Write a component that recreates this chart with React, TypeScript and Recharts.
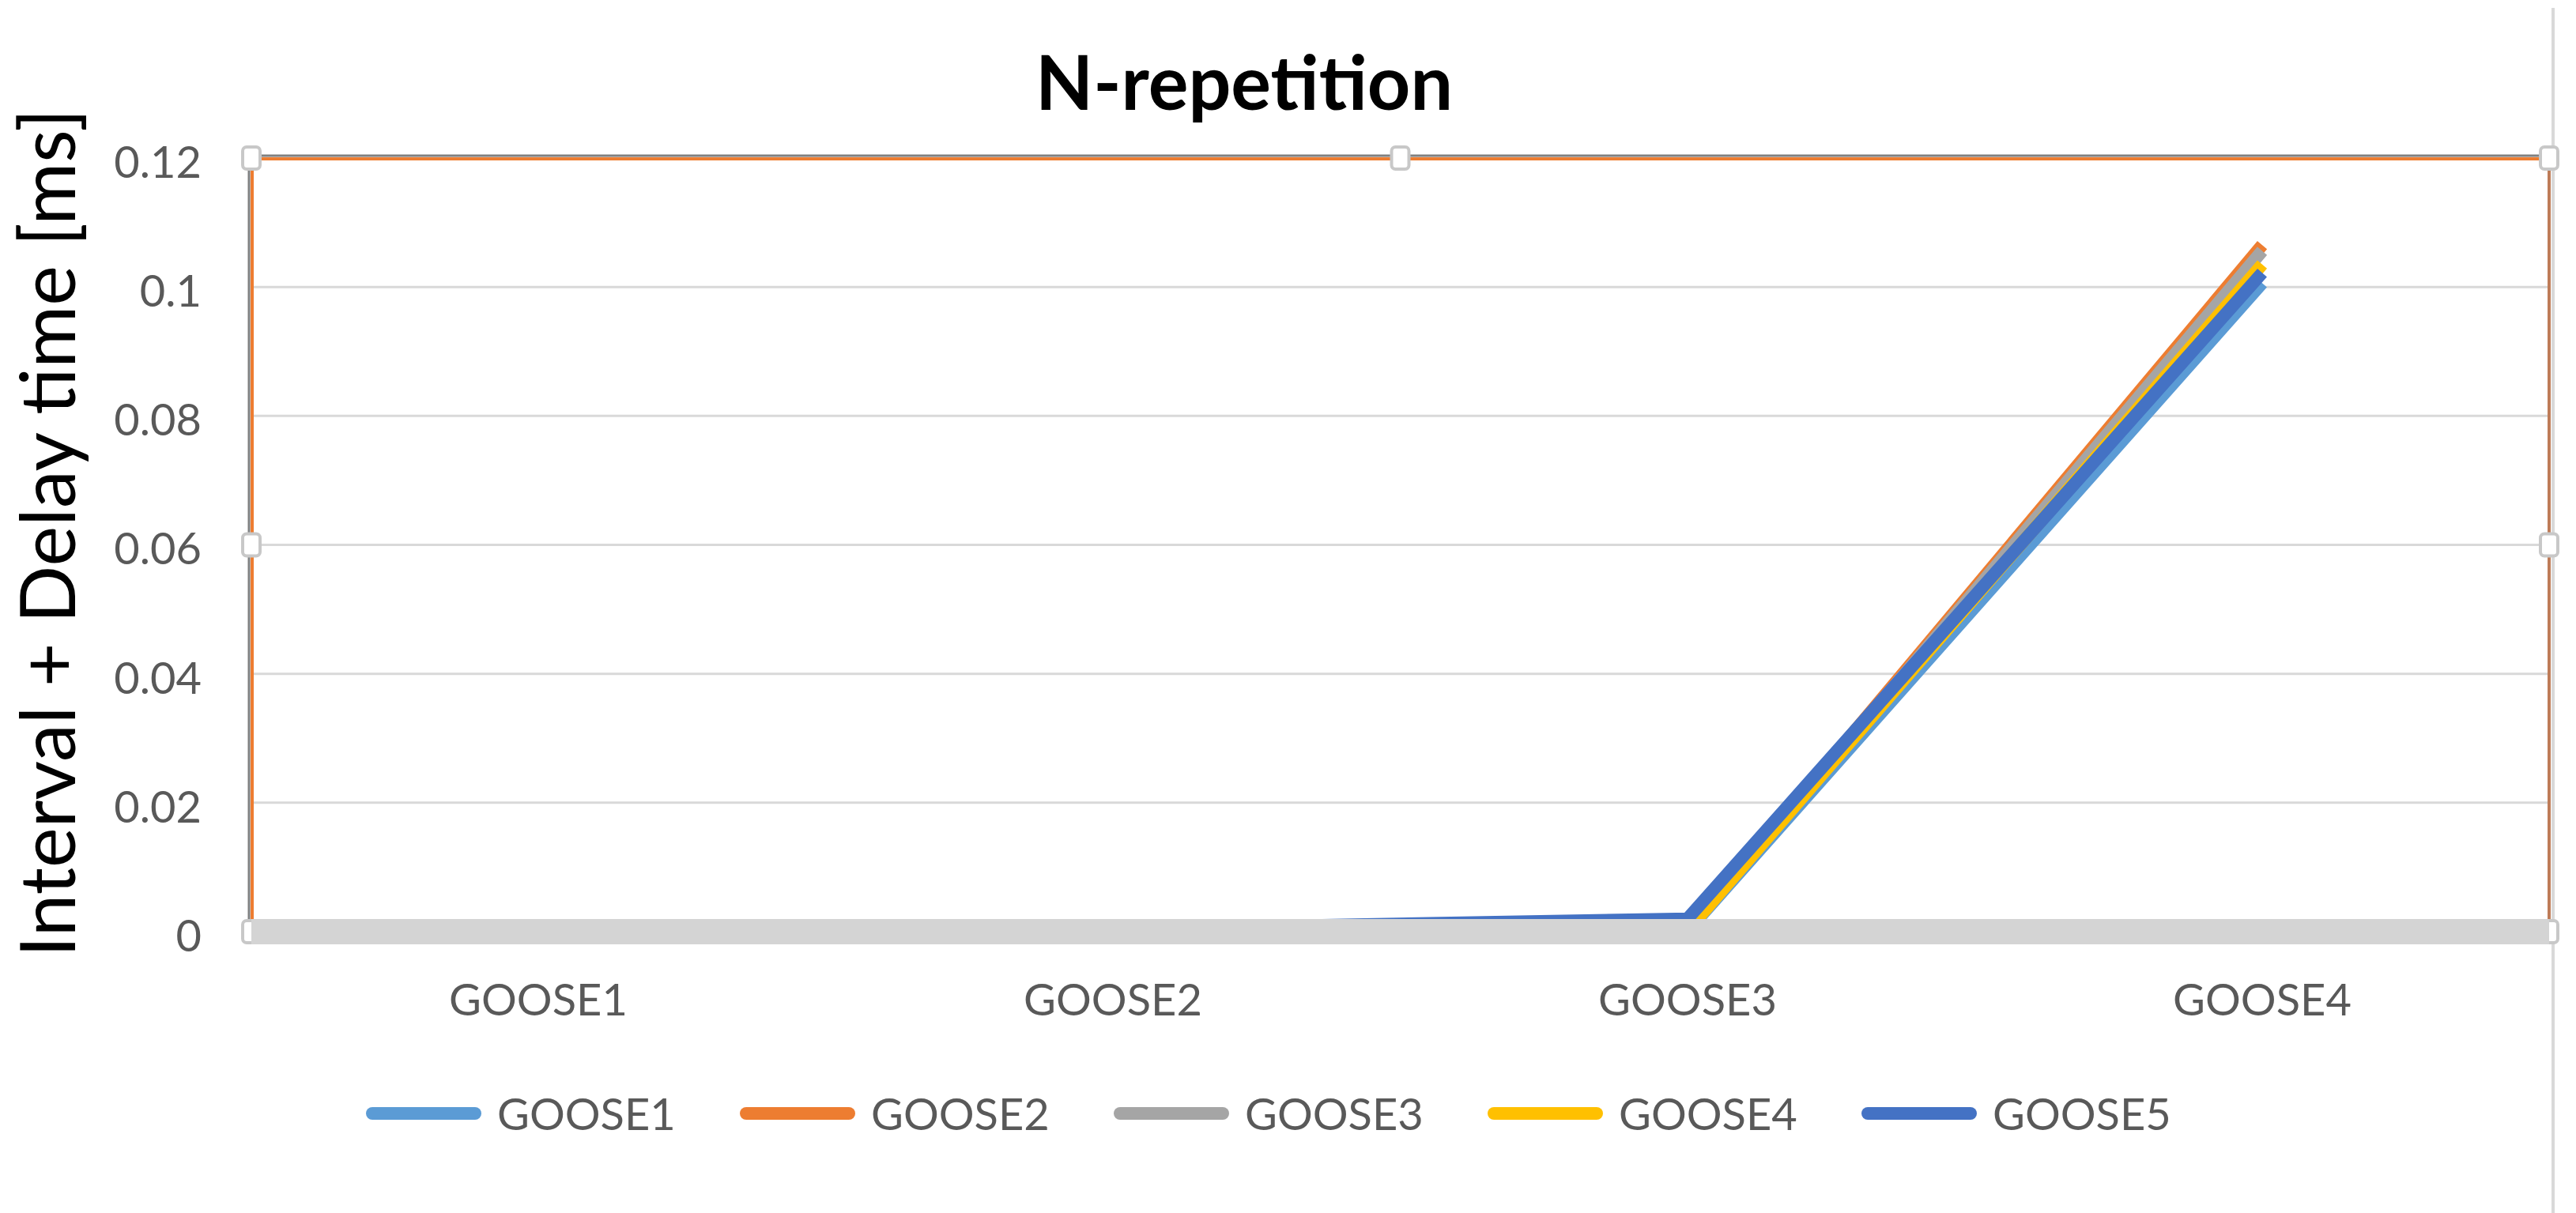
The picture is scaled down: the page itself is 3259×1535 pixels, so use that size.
import {
  CartesianGrid,
  Legend,
  Line,
  LineChart,
  ReferenceArea,
  XAxis,
  YAxis,
} from "recharts";

const categories = ["GOOSE1", "GOOSE2", "GOOSE3", "GOOSE4"];
const goose1 = [0, 0, 0.0001, 0.1006];
const goose2 = [0, 0, 0.0002, 0.1065];
const goose3 = [0, 0, 0.0001, 0.1056];
const goose4 = [0, 0, 0.0002, 0.1035];
const goose5 = [0.0002, 0.0004, 0.002, 0.1022];
const yTicks = [0, 0.02, 0.04, 0.06, 0.08, 0.1, 0.12];

const series = [
  { key: "GOOSE1", values: goose1, color: "#5B9BD5" },
  { key: "GOOSE2", values: goose2, color: "#ED7D31" },
  { key: "GOOSE3", values: goose3, color: "#A5A5A5" },
  { key: "GOOSE4", values: goose4, color: "#FFC000" },
  { key: "GOOSE5", values: goose5, color: "#4472C4" },
];

const chartData = categories.map((name, i) => {
  const row: Record<string, string | number> = { name };
  series.forEach((s) => (row[s.key] = s.values[i]));
  return row;
});

const lastIndex = categories.length - 1;

// selected plot area frame (Excel style) with the little grab handles
function PlotFrame(props: any) {
  const { x, y, width, height } = props;
  const hw = 22;
  const hh = 28;
  const spots = [
    [x, y], [x + width / 2, y], [x + width, y],
    [x, y + height / 2], [x + width, y + height / 2],
    [x, y + height], [x + width / 2, y + height], [x + width, y + height],
  ];
  return (
    <g>
      <line x1={x - 3} y1={y - 3} x2={x + width} y2={y - 3} stroke="#808080" strokeWidth={3} />
      <line x1={x - 3} y1={y - 3} x2={x - 3} y2={y + height} stroke="#808080" strokeWidth={3} />
      <line x1={x} y1={y + 1} x2={x + width} y2={y + 1} stroke="#ED7D31" strokeWidth={4} />
      <line x1={x + 1} y1={y} x2={x + 1} y2={y + height} stroke="#ED7D31" strokeWidth={4} />
      <line x1={x + width} y1={y} x2={x + width} y2={y + height} stroke="#BE7C58" strokeWidth={4} />
      <line x1={x} y1={y + height} x2={x + width} y2={y + height} stroke="#B86B3F" strokeWidth={5} />
      {spots.map(([cx, cy], i) => (
        <rect
          key={i}
          x={cx - hw / 2}
          y={cy - hh / 2}
          width={hw}
          height={hh}
          rx={5}
          fill="#fff"
          stroke="#c8c8c8"
          strokeWidth={4}
        />
      ))}
    </g>
  );
}

function LegendRow() {
  return (
    <div style={{ display: "flex", alignItems: "center", height: 80 }}>
      {series.map((s) => (
        <div key={s.key} style={{ display: "flex", alignItems: "center", width: 473 }}>
          <span
            style={{
              display: "inline-block",
              width: 146,
              height: 16,
              borderRadius: 8,
              background: s.color,
              marginRight: 20,
            }}
          />
          <span style={{ fontSize: 56, color: "#595959", lineHeight: "80px" }}>{s.key}</span>
        </div>
      ))}
    </div>
  );
}

export default function App() {
  return (
    <div
      style={{
        position: "absolute",
        left: 0,
        top: 0,
        width: 3259,
        height: 1535,
        background: "#fff",
        fontFamily: "Lato, 'Noto Sans', sans-serif",
      }}
    >
      <div
        style={{
          position: "absolute",
          left: 1574,
          top: 45,
          transform: "translateX(-50%)",
          fontSize: 95,
          lineHeight: "114px",
          fontWeight: 700,
          color: "#000",
          whiteSpace: "nowrap",
        }}
      >
        N-repetition
      </div>
      <div
        style={{
          position: "absolute",
          left: 3228,
          top: 10,
          width: 4,
          height: 1525,
          background: "#d9d9d9",
        }}
      />
      <LineChart
        width={3259}
        height={1535}
        data={chartData}
        margin={{ top: 200, right: 34, left: 0, bottom: 256 }}
      >
        <CartesianGrid vertical={false} stroke="#d9d9d9" strokeWidth={3} />
        <XAxis
          dataKey="name"
          interval={0}
          padding={{ left: 363, right: 363 }}
          height={100}
          axisLine={{ stroke: "#d4d4d4", strokeWidth: 32 }}
          tickLine={false}
          tickSize={0}
          tickMargin={66}
          tick={{ fontSize: 56, fill: "#595959" }}
        />
        <XAxis
          xAxisId="frame"
          type="number"
          domain={[0, lastIndex]}
          allowDataOverflow
          hide
        />
        <YAxis
          width={318}
          domain={[0, 0.12]}
          ticks={yTicks}
          axisLine={false}
          tickLine={false}
          tickSize={0}
          tickMargin={63}
          tick={{ fontSize: 56, fill: "#595959", dy: 5 }}
          label={{
            value: "Interval + Delay time [ms]",
            angle: -90,
            position: "insideLeft",
            offset: 61,
            dy: -15,
            fontSize: 96,
            fill: "#000",
            style: { textAnchor: "middle" },
          }}
        />
        <ReferenceArea
          xAxisId="frame"
          x1={0}
          x2={lastIndex}
          y1={0}
          y2={0.12}
          ifOverflow="visible"
          shape={<PlotFrame />}
        />
        {series.map((s) => (
          <Line
            key={s.key}
            type="linear"
            dataKey={s.key}
            stroke={s.color}
            strokeWidth={16}
            strokeLinejoin="round"
            dot={false}
            activeDot={false}
            isAnimationActive={false}
          />
        ))}
        <Legend
          verticalAlign="middle"
          align="center"
          layout="horizontal"
          wrapperStyle={{ top: 1369, left: 463, width: 2600, height: 80 }}
          content={<LegendRow />}
        />
      </LineChart>
    </div>
  );
}
